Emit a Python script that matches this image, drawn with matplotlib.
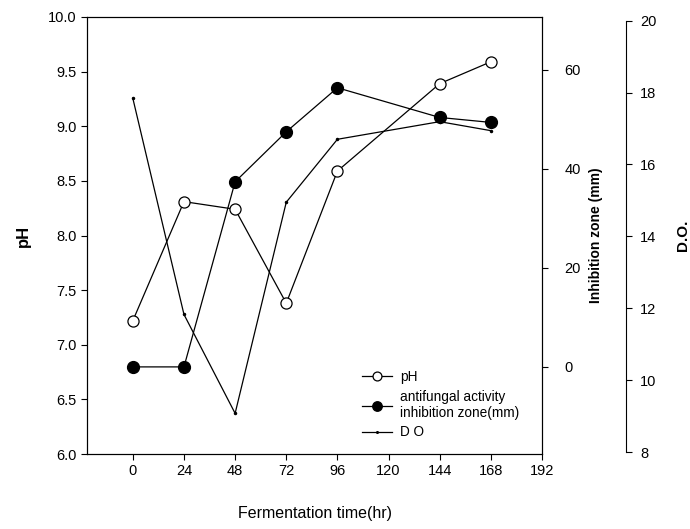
import matplotlib
matplotlib.use('Agg')
import matplotlib.pyplot as plt

plt.rcParams['font.family'] = ['Liberation Sans', 'DejaVu Sans']

# данные
hours = [0, 24, 48, 72, 96, 144, 168]
ph = [7.22, 8.31, 8.24, 7.38, 8.59, 9.39, 9.59]
inhibition = [0, 0, 37.4, 47.5, 56.4, 50.4, 49.4]
do = [17.84, 11.83, 9.08, 14.95, 16.70, 17.19, 16.94]

x_ticks = [0, 24, 48, 72, 96, 120, 144, 168, 192]
ph_ticks = [6.0, 6.5, 7.0, 7.5, 8.0, 8.5, 9.0, 9.5, 10.0]
inh_ticks = [0, 20, 40, 60]
do_ticks = [8, 10, 12, 14, 16, 18, 20]

fig = plt.figure(figsize=(6.9, 5.29), dpi=100)
ax = fig.add_axes([87 / 690, 1 - 454 / 529, 455 / 690, 437 / 529])

lw = 0.9
line_ph, = ax.plot(hours, ph, '-o', color='black', lw=lw, mfc='white',
                   mec='black', mew=0.9, ms=8, zorder=3)
ax.set_xlim(-21.5, 192)
ax.set_ylim(6.0, 10.0)
ax.set_xticks(x_ticks)
ax.set_yticks(ph_ticks)
ax.set_yticklabels([f'{v:.1f}' for v in ph_ticks])
ax.tick_params(labelsize=10.5, length=4, width=0.8, direction='out')
ax.set_ylabel('pH', fontsize=12, fontweight='bold', labelpad=12)
ax.set_xlabel('Fermentation time(hr)', fontsize=11.5, labelpad=20)
for s in ax.spines.values():
    s.set_linewidth(0.8)

# ось зоны ингибирования
ax2 = ax.twinx()
line_inh, = ax2.plot(hours, inhibition, '-o', color='black', lw=lw,
                     mfc='black', mec='black', ms=8.5, zorder=3)
ax2.set_ylim(-17.6, 70.7)
ax2.set_yticks(inh_ticks)
ax2.tick_params(labelsize=10.5, length=4, width=0.8, direction='out', pad=12)
ax2.set_ylabel('Inhibition zone (mm)', fontsize=10, fontweight='bold', labelpad=6)
ax2.spines['right'].set_linewidth(0.8)

# ось D.O.
ax3 = ax.twinx()
ax3.spines['right'].set_position(('axes', 539 / 455))
line_do, = ax3.plot(hours, do, '-', color='black', lw=lw, marker='.', ms=3)
ax3.set_ylim(7.95, 20.1)
ax3.set_yticks(do_ticks)
ax3.spines['right'].set_bounds(8, 20)
ax3.spines['right'].set_linewidth(0.8)
ax3.spines['top'].set_visible(False)
ax3.spines['left'].set_visible(False)
ax3.spines['bottom'].set_visible(False)
ax3.tick_params(labelsize=10.5, length=4, width=0.8, direction='out', pad=6)
ax3.set_ylabel('D.O.', fontsize=11, fontweight='bold', labelpad=14)

fig.legend([line_ph, line_inh, line_do],
           ['pH', 'antifungal activity\ninhibition zone(mm)', 'D O'],
           loc='upper left', bbox_to_anchor=(350 / 690, 1 - 358 / 529),
           frameon=False, fontsize=9.8, handlelength=2.2, handletextpad=0.6,
           labelspacing=0.4, markerscale=0.8)

fig.savefig('out.png', dpi=100)
